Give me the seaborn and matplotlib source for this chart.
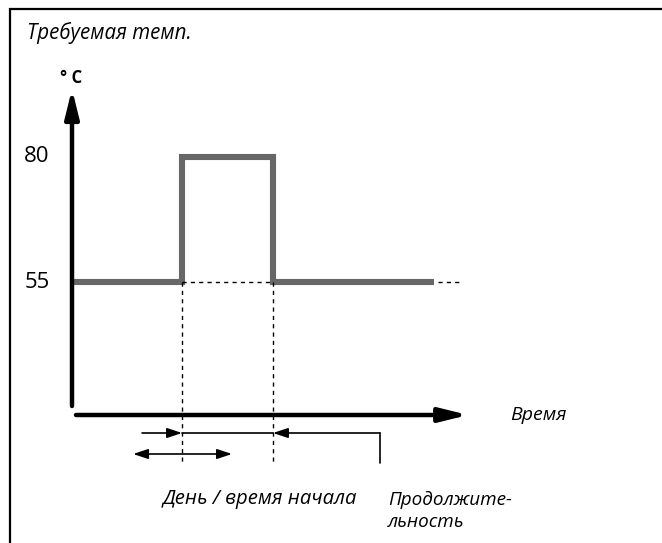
import matplotlib
matplotlib.use("Agg")
import matplotlib.pyplot as plt
import numpy as np
import pandas as pd
import seaborn as sns

# Setpoint program: base temperature, raised period, back to base
time_h = [0.0, 4.0, 7.37, 13.33]
temp_c = [55, 80, 55, 55]
level_labels = ["80", "55"]
title_text = "Требуемая темп."
unit_text = "° C"
x_axis_text = "Время"
start_text = "День / время начала"
duration_text = "Продолжите-\nльность"

sns.set_style("white")
plt.rcParams["font.family"] = ["Open Sans", "DejaVu Sans"]
plt.rcParams["text.color"] = "black"

W, H = 662, 543
fig = plt.figure(figsize=(W / 100, H / 100), dpi=100)
ax = fig.add_axes([10 / W, 0, (W - 10) / W, (H - 9) / H])

# data scale: 27 px per hour, 5 px per degree
px_t, px_c = 27.0, 5.0
x0, y55 = 74, 282
ax.set_xlim((10 - x0) / px_t, (W - x0) / px_t)
ax.set_ylim(55 - (H - y55) / px_c, 55 + (y55 - 9) / px_c)

df = pd.DataFrame({"time": time_h, "temp": temp_c})
sns.lineplot(data=df, x="time", y="temp", drawstyle="steps-post",
             color="#676767", linewidth=4.4, estimator=None, sort=False,
             ax=ax, solid_capstyle="butt", solid_joinstyle="miter")
ax.set_axis_off()

gray_end = time_h[-1]
t_rise, t_fall = time_h[1], time_h[2]
t_dash_end = 14.37
y_axis_x = -0.074
x_axis_y = 28.4
y_axis_top = 93.6
y_axis_bottom = 30.2
x_axis_tip = 14.6
y_arrow1 = 24.8
y_arrow2 = 20.6
y_dash_bottom = 18.8
t_bracket = 11.33

# frame along the top and left edges
ax.plot([0, 0, 1], [0, 1, 1], transform=ax.transAxes, color="black",
        lw=1.6, clip_on=False, solid_joinstyle="miter")

# axes arrows
ax.annotate("", xy=(y_axis_x, y_axis_top), xytext=(y_axis_x, y_axis_bottom),
            arrowprops=dict(arrowstyle="-|>,head_length=1.7,head_width=0.42",
                            color="black", lw=3.2, shrinkA=0, shrinkB=0))
ax.annotate("", xy=(x_axis_tip, x_axis_y), xytext=(0.074, x_axis_y),
            arrowprops=dict(arrowstyle="-|>,head_length=1.7,head_width=0.42",
                            color="black", lw=3.2, shrinkA=0, shrinkB=0))

# dashed guides
dash = dict(color="black", lw=1.0, linestyle=(0, (3, 3)))
ax.plot([t_rise, t_fall], [55, 55], **dash)
ax.plot([gray_end + 0.15, t_dash_end], [55, 55], **dash)
ax.plot([t_rise, t_rise], [55, y_dash_bottom], **dash)
ax.plot([t_fall, t_fall], [55, y_dash_bottom], **dash)

# start-time and duration markers
small = dict(arrowstyle="-|>,head_length=0.9,head_width=0.3", color="black",
             lw=1.2, shrinkA=0, shrinkB=0)
ax.annotate("", xy=(t_rise, y_arrow1), xytext=(2.52, y_arrow1), arrowprops=small)
ax.plot([t_rise, t_fall], [y_arrow1, y_arrow1], color="black", lw=1.2)
ax.annotate("", xy=(t_fall, y_arrow1), xytext=(t_bracket, y_arrow1), arrowprops=small)
ax.plot([t_bracket, t_bracket], [y_arrow1, y_dash_bottom], color="black", lw=1.2)
ax.annotate("", xy=(2.19, y_arrow2), xytext=(5.85, y_arrow2),
            arrowprops=dict(arrowstyle="<|-|>,head_length=0.9,head_width=0.3",
                            color="black", lw=1.2, shrinkA=0, shrinkB=0))

# labels
ax.text(-1.74, 104.8, title_text, style="italic", fontsize=14.8,
        ha="left", va="center")
ax.text(y_axis_x - 0.05, 95.8, unit_text, fontsize=12, fontweight="bold",
        ha="center", va="center")
for lab, val in zip(level_labels, [max(temp_c), min(temp_c)]):
    ax.text(-1.37, val, lab, fontsize=16, ha="center", va="center")
ax.text(16.15, x_axis_y, x_axis_text, style="italic", fontsize=14,
        ha="left", va="center")
ax.text(3.3, 11.6, start_text, style="italic", fontsize=14.6,
        ha="left", va="center")
ax.text(11.63, 9.2, duration_text, style="italic", fontsize=13.6,
        ha="left", va="center", linespacing=1.25)

fig.savefig("out.png", dpi=100, facecolor="white")
